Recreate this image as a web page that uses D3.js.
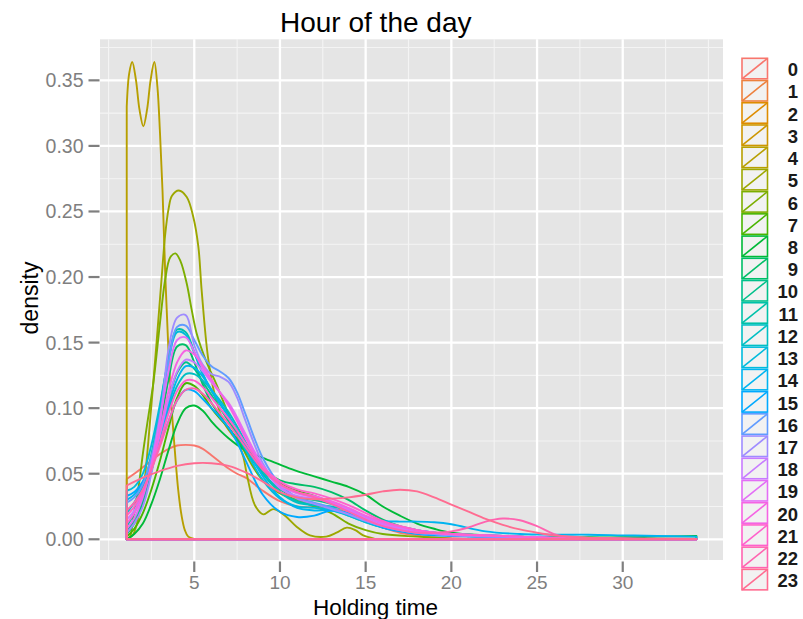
<!DOCTYPE html>
<html>
<head>
<meta charset="utf-8">
<script src="https://cdn.jsdelivr.net/npm/d3@7"></script>
<style>
  html, body { margin: 0; padding: 0; background: #ffffff; }
  svg { display: block; }
</style>
</head>
<body>
<svg id="chart" width="803" height="619"></svg>
<script>
// ---------------- data ----------------
const hourLabels = ["0","1","2","3","4","5","6","7","8","9","10","11","12","13","14","15","16","17","18","19","20","21","22","23"];
const xTicks = [5, 10, 15, 20, 25, 30];
const yTicks = [0, 0.05, 0.10, 0.15, 0.20, 0.25, 0.30, 0.35];
const titleText = "Hour of the day";
const xTitle = "Holding time";
const yTitle = "density";

// shared x grid for the busy hours
const gridX = [1.06, 1.5, 2, 2.5, 3, 3.5, 4, 4.5, 5, 5.5, 6, 6.5, 7, 7.5, 8,
               9, 10, 11, 12, 13, 14, 15, 16, 17, 18, 19, 20,
               22, 24, 26, 28, 30, 32, 34.3];

const x0 = [1.06, 1.5, 2, 2.5, 3, 3.5, 4, 4.5, 5, 5.5, 6, 6.5, 7, 7.5, 8, 9, 10, 11, 12, 13, 14, 15, 16, 17, 18, 19, 20, 21];
const d0 = [0.046, 0.05, 0.055, 0.06, 0.065, 0.069, 0.0715, 0.072, 0.0715, 0.069, 0.064, 0.059, 0.054, 0.05, 0.047, 0.037, 0.029, 0.025, 0.0245, 0.024, 0.02, 0.014, 0.009, 0.005, 0.003, 0.0015, 0.0008, 0.0004];

const x4 = [1.06, 1.2, 1.38, 1.6, 1.8, 2.03, 2.25, 2.45, 2.67, 2.85, 3.0, 3.15, 3.3, 3.48, 3.67, 3.87, 4.06, 4.26, 4.45, 4.65, 5.0];
const d4 = [0.33, 0.355, 0.364, 0.35, 0.328, 0.315, 0.328, 0.35, 0.364, 0.345, 0.31, 0.265, 0.205, 0.148, 0.102, 0.067, 0.038, 0.018, 0.007, 0.002, 0.0003];

const x5 = [1.06, 1.4, 1.8, 2.1, 2.42, 2.8, 3.1, 3.3, 3.5, 3.7, 4.1, 4.56, 4.94, 5.24, 5.43, 5.8, 6.2, 6.7, 7.2, 7.5, 7.86, 8.06, 8.54, 9.03, 9.6, 10.2, 10.97, 11.75, 12.7, 13.3, 13.9, 14.4, 14.86, 15.5];
const d5 = [0.0005, 0.003, 0.02, 0.045, 0.09, 0.15, 0.2, 0.232, 0.252, 0.262, 0.266, 0.261, 0.246, 0.223, 0.19, 0.139, 0.11, 0.09, 0.08, 0.075, 0.063, 0.05, 0.026, 0.019, 0.023, 0.019, 0.0096, 0.003, 0.002, 0.005, 0.0089, 0.007, 0.003, 0.0005];

const x6 = [1.06, 1.25, 1.44, 1.75, 2.03, 2.3, 2.61, 3.0, 3.29, 3.6, 3.9, 4.2, 4.56, 4.85, 5.14, 5.72, 6.3, 7, 8, 9, 10, 11, 12, 13, 14, 15, 16, 18, 20];
const d6 = [0.0, 0.002, 0.017, 0.04, 0.068, 0.092, 0.119, 0.165, 0.197, 0.215, 0.218, 0.212, 0.195, 0.175, 0.157, 0.135, 0.118, 0.095, 0.065, 0.045, 0.035, 0.03, 0.025, 0.02, 0.012, 0.007, 0.004, 0.002, 0.0005];

const d7  = [0.002, 0.008, 0.02, 0.038, 0.06, 0.085, 0.108, 0.119, 0.117, 0.11, 0.1, 0.092, 0.085, 0.076, 0.067, 0.052, 0.043, 0.037, 0.033, 0.028, 0.022, 0.016, 0.011, 0.008, 0.006, 0.004, 0.003, 0.002, 0.001, 0.0008, 0.0005, 0.0003, 0.0002, 0.0001];
const d8  = [0.0, 0.004, 0.012, 0.027, 0.046, 0.068, 0.088, 0.1, 0.102, 0.098, 0.09, 0.083, 0.077, 0.072, 0.068, 0.062, 0.057, 0.052, 0.048, 0.044, 0.04, 0.034, 0.025, 0.018, 0.012, 0.008, 0.005, 0.003, 0.002, 0.0015, 0.0015, 0.0015, 0.002, 0.0025];
const d9  = [0.004, 0.012, 0.028, 0.052, 0.085, 0.122, 0.147, 0.148, 0.135, 0.118, 0.104, 0.094, 0.085, 0.076, 0.067, 0.053, 0.045, 0.042, 0.04, 0.036, 0.03, 0.022, 0.015, 0.01, 0.007, 0.005, 0.004, 0.003, 0.002, 0.001, 0.0008, 0.0005, 0.0003, 0.0002];
const d10 = [0.006, 0.015, 0.03, 0.052, 0.078, 0.106, 0.127, 0.135, 0.13, 0.12, 0.11, 0.1, 0.09, 0.079, 0.068, 0.05, 0.038, 0.032, 0.03, 0.027, 0.022, 0.016, 0.011, 0.008, 0.006, 0.005, 0.004, 0.003, 0.002, 0.001, 0.0007, 0.0004, 0.0002, 0.0001];
const d11 = [0.01, 0.02, 0.038, 0.065, 0.1, 0.138, 0.16, 0.158, 0.143, 0.126, 0.113, 0.103, 0.094, 0.083, 0.071, 0.05, 0.036, 0.029, 0.026, 0.023, 0.018, 0.013, 0.009, 0.007, 0.005, 0.004, 0.003, 0.002, 0.0015, 0.001, 0.0006, 0.0003, 0.0002, 0.0001];
const d12 = [0.02, 0.028, 0.04, 0.058, 0.078, 0.099, 0.117, 0.126, 0.126, 0.121, 0.114, 0.106, 0.097, 0.086, 0.074, 0.052, 0.036, 0.028, 0.026, 0.025, 0.022, 0.017, 0.012, 0.009, 0.007, 0.005, 0.004, 0.003, 0.002, 0.0012, 0.0008, 0.0005, 0.0003, 0.0002];
const d13 = [0.037, 0.04, 0.05, 0.072, 0.103, 0.137, 0.158, 0.156, 0.142, 0.126, 0.114, 0.104, 0.094, 0.082, 0.068, 0.045, 0.031, 0.025, 0.024, 0.022, 0.018, 0.013, 0.009, 0.007, 0.005, 0.004, 0.003, 0.002, 0.0015, 0.001, 0.0006, 0.0003, 0.0002, 0.0001];
const d14 = [0.03, 0.034, 0.044, 0.06, 0.08, 0.102, 0.122, 0.132, 0.131, 0.124, 0.114, 0.104, 0.094, 0.083, 0.071, 0.048, 0.032, 0.024, 0.022, 0.022, 0.019, 0.016, 0.014, 0.0135, 0.0135, 0.013, 0.0115, 0.006, 0.004, 0.0035, 0.0035, 0.003, 0.0025, 0.002];
const d15 = [0.033, 0.036, 0.044, 0.057, 0.073, 0.09, 0.106, 0.114, 0.113, 0.107, 0.1, 0.093, 0.085, 0.074, 0.06, 0.034, 0.021, 0.017, 0.018, 0.022, 0.02, 0.014, 0.009, 0.006, 0.004, 0.003, 0.0025, 0.002, 0.0015, 0.001, 0.0006, 0.0004, 0.0002, 0.0001];
const d16 = [0.028, 0.032, 0.042, 0.063, 0.095, 0.135, 0.162, 0.163, 0.152, 0.14, 0.132, 0.128, 0.123, 0.112, 0.095, 0.062, 0.042, 0.032, 0.028, 0.024, 0.019, 0.014, 0.01, 0.007, 0.005, 0.004, 0.003, 0.002, 0.0015, 0.001, 0.0006, 0.0003, 0.0002, 0.0001];
const d17 = [0.005, 0.012, 0.025, 0.05, 0.088, 0.145, 0.169, 0.171, 0.148, 0.133, 0.126, 0.124, 0.12, 0.108, 0.09, 0.058, 0.04, 0.031, 0.027, 0.023, 0.019, 0.014, 0.01, 0.007, 0.005, 0.004, 0.003, 0.002, 0.0015, 0.001, 0.0005, 0.0003, 0.0002, 0.0001];
const d18 = [0.015, 0.022, 0.035, 0.055, 0.08, 0.107, 0.128, 0.137, 0.135, 0.128, 0.12, 0.112, 0.103, 0.092, 0.079, 0.055, 0.039, 0.033, 0.031, 0.028, 0.023, 0.017, 0.012, 0.009, 0.007, 0.005, 0.004, 0.003, 0.002, 0.0012, 0.0007, 0.0004, 0.0002, 0.0001];
const d19 = [0.008, 0.016, 0.032, 0.058, 0.092, 0.128, 0.152, 0.154, 0.143, 0.13, 0.12, 0.112, 0.104, 0.093, 0.08, 0.056, 0.041, 0.035, 0.032, 0.028, 0.022, 0.016, 0.011, 0.008, 0.006, 0.005, 0.004, 0.003, 0.002, 0.001, 0.0006, 0.0003, 0.0002, 0.0001];
const d20 = [0.012, 0.02, 0.034, 0.056, 0.083, 0.113, 0.135, 0.144, 0.141, 0.132, 0.122, 0.112, 0.102, 0.09, 0.077, 0.055, 0.042, 0.036, 0.033, 0.029, 0.024, 0.018, 0.013, 0.01, 0.007, 0.005, 0.004, 0.003, 0.002, 0.001, 0.0006, 0.0003, 0.0002, 0.0001];
const d21 = [0.018, 0.025, 0.037, 0.054, 0.074, 0.096, 0.113, 0.121, 0.121, 0.116, 0.108, 0.1, 0.092, 0.083, 0.073, 0.055, 0.044, 0.038, 0.035, 0.031, 0.026, 0.02, 0.014, 0.01, 0.007, 0.005, 0.004, 0.003, 0.002, 0.001, 0.0006, 0.0003, 0.0002, 0.0001];

const x22 = [1.06, 1.5, 2, 2.5, 3, 3.5, 4, 4.5, 5, 5.5, 6, 6.5, 7, 7.5, 8, 9, 10, 11, 12, 13, 14, 15, 16, 17, 18, 19, 20, 21, 22, 23, 24, 25, 26, 27, 28, 30, 32, 34.3];
const d22 = [0.022, 0.028, 0.038, 0.053, 0.071, 0.09, 0.106, 0.114, 0.115, 0.111, 0.104, 0.096, 0.088, 0.079, 0.07, 0.053, 0.042, 0.036, 0.032, 0.027, 0.021, 0.015, 0.01, 0.007, 0.005, 0.005, 0.006, 0.009, 0.0135, 0.0158, 0.0145, 0.01, 0.004, 0.0015, 0.0008, 0.0003, 0.0002, 0.0001];

const x23 = [1.06, 2, 3, 4, 5, 6, 7, 8, 9, 10, 11, 12, 13, 14, 15, 16, 17, 18, 19, 20, 21, 22, 23, 24, 25, 26, 27, 28, 30, 32, 34.3];
const d23 = [0.041, 0.047, 0.052, 0.056, 0.058, 0.058, 0.056, 0.051, 0.044, 0.036, 0.032, 0.0305, 0.031, 0.032, 0.034, 0.0365, 0.0378, 0.0365, 0.032, 0.0265, 0.021, 0.0155, 0.011, 0.0075, 0.005, 0.003, 0.002, 0.0013, 0.0008, 0.0005, 0.0003];

// hours 1-3 show no visible curve in the reference
const seriesX = [x0, null, null, null, x4, x5, x6, gridX, gridX, gridX, gridX, gridX, gridX, gridX, gridX, gridX, gridX, gridX, gridX, gridX, gridX, gridX, x22, x23];
const seriesY = [d0, null, null, null, d4, d5, d6, d7, d8, d9, d10, d11, d12, d13, d14, d15, d16, d17, d18, d19, d20, d21, d22, d23];

// ---------------- colours (ggplot hue palette, polar LUV) ----------------
function hclToHex(h, c, l) {
  const hr = h * Math.PI / 180;
  const U = c * Math.cos(hr), V = c * Math.sin(hr);
  const Xn = 95.047, Yn = 100.0, Zn = 108.883;
  const den = Xn + 15 * Yn + 3 * Zn;
  const un = 4 * Xn / den, vn = 9 * Yn / den;
  const Y = l > 8 ? Yn * Math.pow((l + 16) / 116, 3) : Yn * l / 903.3;
  const u = U / (13 * l) + un, v = V / (13 * l) + vn;
  const X = 9 * Y * u / (4 * v);
  const Z = -X / 3 - 5 * Y + 3 * Y / v;
  const x = X / 100, y = Y / 100, z = Z / 100;
  const lin = [
    3.240479 * x - 1.537150 * y - 0.498535 * z,
    -0.969256 * x + 1.875992 * y + 0.041556 * z,
    0.055648 * x - 0.204043 * y + 1.057311 * z
  ];
  const gam = t => t <= 0.0031308 ? 12.92 * t : 1.055 * Math.pow(t, 1 / 2.4) - 0.055;
  return "#" + lin.map(t => {
    const s = Math.round(Math.max(0, Math.min(1, gam(t))) * 255);
    return s.toString(16).padStart(2, "0");
  }).join("");
}
const nH = hourLabels.length;
const colors = hourLabels.map((_, i) => hclToHex(15 + 360 * i / nH, 100, 65));

// ---------------- layout ----------------
const svg = d3.select("#chart");
const P = { left: 100, right: 723, top: 39.3, bottom: 560 };
const font = "'Liberation Sans', Arial, Helvetica, sans-serif";

const sx = d3.scaleLinear().domain([-0.5, 35.85]).range([P.left, P.right]);
const sy = d3.scaleLinear().domain([-0.0158, 0.3813]).range([P.bottom, P.top]);

svg.append("rect").attr("x", 0).attr("y", 0).attr("width", 803).attr("height", 619).attr("fill", "#ffffff");
svg.append("rect").attr("x", P.left).attr("y", P.top)
  .attr("width", P.right - P.left).attr("height", P.bottom - P.top).attr("fill", "#E5E5E5");

// minor grid
const xMinor = d3.range(0, 36, 5).concat(d3.range(2.5, 36, 5)).filter(v => xTicks.indexOf(v) < 0);
const yMinor = d3.range(0.025, 0.38, 0.05).map(v => +v.toFixed(3));
const grid = svg.append("g");
grid.selectAll("line.xm").data(xMinor).join("line")
  .attr("x1", d => sx(d)).attr("x2", d => sx(d)).attr("y1", P.top).attr("y2", P.bottom)
  .attr("stroke", "#F4F4F4").attr("stroke-width", 1.1);
grid.selectAll("line.ym").data(yMinor).join("line")
  .attr("y1", d => sy(d)).attr("y2", d => sy(d)).attr("x1", P.left).attr("x2", P.right)
  .attr("stroke", "#F4F4F4").attr("stroke-width", 1.1);
// major grid
grid.selectAll("line.xM").data(xTicks).join("line")
  .attr("x1", d => sx(d)).attr("x2", d => sx(d)).attr("y1", P.top).attr("y2", P.bottom)
  .attr("stroke", "#FFFFFF").attr("stroke-width", 2.3);
grid.selectAll("line.yM").data(yTicks).join("line")
  .attr("y1", d => sy(d)).attr("y2", d => sy(d)).attr("x1", P.left).attr("x2", P.right)
  .attr("stroke", "#FFFFFF").attr("stroke-width", 2.3);

// clip
svg.append("clipPath").attr("id", "clipP").append("rect")
  .attr("x", P.left).attr("y", P.top).attr("width", P.right - P.left).attr("height", P.bottom - P.top);

// density outlines (closed like geom_density)
const line = d3.line().x(d => sx(d[0])).y(d => sy(d[1])).curve(d3.curveCatmullRom.alpha(0.5));
const curves = svg.append("g").attr("clip-path", "url(#clipP)");
hourLabels.forEach((h, i) => {
  const xs = seriesX[i], ys = seriesY[i];
  if (!xs) return;
  const pts = xs.map((x, k) => [x, ys[k]]);
  const body = line(pts);
  const x1 = xs[0], x2 = xs[xs.length - 1];
  const d = `M${sx(x1)},${sy(0)}L` + body.slice(1) + `L${sx(x2)},${sy(0)}Z`;
  curves.append("path").attr("d", d)
    .attr("fill", "none").attr("stroke", colors[i]).attr("stroke-width", 1.9)
    .attr("stroke-linejoin", "round");
});

// axes
const axisCol = "#7F7F7F";
const yAxis = svg.append("g");
yAxis.selectAll("line").data(yTicks).join("line")
  .attr("x1", 88.5).attr("x2", 99.5).attr("y1", d => sy(d)).attr("y2", d => sy(d))
  .attr("stroke", axisCol).attr("stroke-width", 2.2);
yAxis.selectAll("text").data(yTicks).join("text")
  .attr("x", 83.5).attr("y", d => sy(d)).attr("dy", "0.36em")
  .attr("text-anchor", "end").attr("font-family", font).attr("font-size", 19.5)
  .attr("fill", axisCol).text(d => d.toFixed(2));

const xAxis = svg.append("g");
xAxis.selectAll("line").data(xTicks).join("line")
  .attr("x1", d => sx(d)).attr("x2", d => sx(d)).attr("y1", 561.5).attr("y2", 572)
  .attr("stroke", axisCol).attr("stroke-width", 2.2);
xAxis.selectAll("text").data(xTicks).join("text")
  .attr("x", d => sx(d)).attr("y", 588.5)
  .attr("text-anchor", "middle").attr("font-family", font).attr("font-size", 19)
  .attr("fill", axisCol).text(d => d);

// titles
svg.append("text").attr("x", 280).attr("y", 31.5).attr("font-family", font)
  .attr("font-size", 28).attr("fill", "#000").text(titleText);
svg.append("text").attr("x", 313).attr("y", 614.5).attr("font-family", font)
  .attr("font-size", 22.5).attr("fill", "#000").text(xTitle);
svg.append("text").attr("transform", "translate(38,298) rotate(-90)")
  .attr("text-anchor", "middle").attr("font-family", font)
  .attr("font-size", 23).attr("fill", "#000").text(yTitle);

// legend
const leg = svg.append("g");
const keyX = 742, keyW = 25.5, keyH = 20.5, pitch = 22.22, keyTop = 58.3;
hourLabels.forEach((h, i) => {
  const y = keyTop + pitch * i;
  const g = leg.append("g");
  g.append("rect").attr("x", keyX).attr("y", y).attr("width", keyW).attr("height", keyH)
    .attr("fill", "#F2F2F2").attr("stroke", colors[i]).attr("stroke-width", 1.6);
  g.append("line").attr("x1", keyX).attr("y1", y + keyH).attr("x2", keyX + keyW).attr("y2", y)
    .attr("stroke", colors[i]).attr("stroke-width", 1.6);
  g.append("text").attr("x", 798).attr("y", y + keyH / 2 + 1).attr("dy", "0.36em")
    .attr("text-anchor", "end").attr("font-family", font).attr("font-size", 18.5)
    .attr("font-weight", "bold").attr("fill", "#1a1a1a").text(h);
});
</script>
</body>
</html>
